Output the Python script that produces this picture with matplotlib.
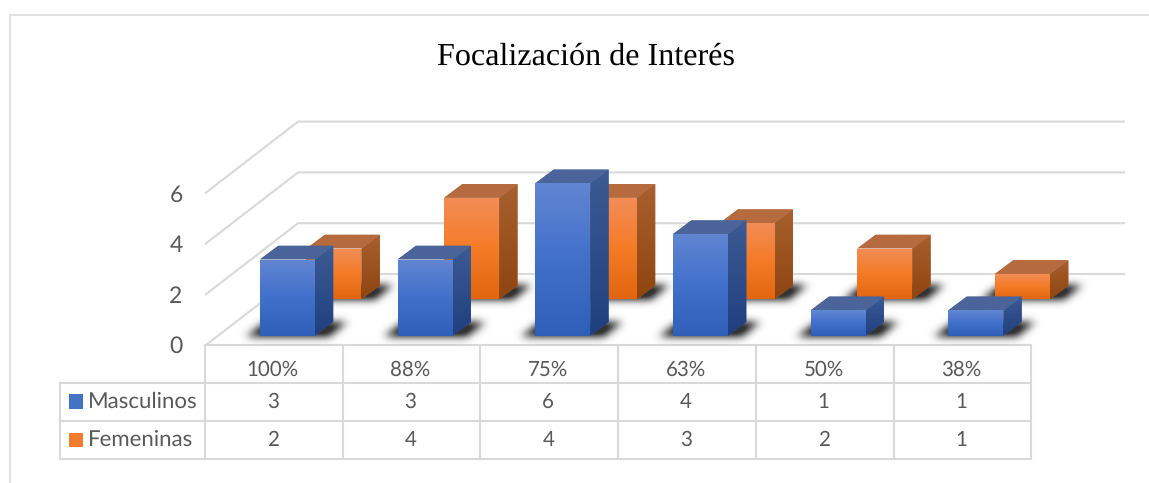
import numpy as np
import matplotlib
matplotlib.use('Agg')
import matplotlib.pyplot as plt
from matplotlib.colors import LinearSegmentedColormap
from matplotlib.patches import Polygon, Rectangle
from matplotlib.path import Path

title = 'Focalización de Interés'
categories = ['100%', '88%', '75%', '63%', '50%', '38%']
masculinos = [3, 3, 6, 4, 1, 1]
femeninas = [2, 4, 4, 3, 2, 1]
y_ticks = [0, 2, 4, 6]

W, H = 1149, 483
COL = 137.7      # pixels per category
UNIT = 25.4      # pixels per value unit
X0 = 273.9       # pixel of first category centre
Y0 = 335.7       # pixel of the front row's zero
GRID = '#d9d9d9'
TEXT = '#595959'

WIDTH = 55 / COL
DX = 18.3 / COL
DY = 13.7 / UNIT
BACK_SHIFT = 32.6 / COL
FRONT_SHIFT = -14 / COL
BACK_LIFT = 36.4 / UNIT

BLUE = {'front': ['#6186d2', '#4170cb', '#2f60b8'], 'side': ['#3c5b94', '#1f3f7f'], 'top': ['#4b6499', '#4b6499']}
ORANGE = {'front': ['#f28d57', '#f57b27', '#e2660f'], 'side': ['#a8602f', '#8f4510'], 'top': ['#b66b3f', '#b66b3f']}

plt.rcParams['font.family'] = ['Lato', 'DejaVu Sans']
plt.rcParams['text.hinting'] = 'none'

fig = plt.figure(figsize=(W / 100, H / 100), dpi=100)
page = fig.add_axes([0, 0, 1, 1])   # pixel space, for frame and table
page.set_xlim(0, W)
page.set_ylim(H, 0)
page.axis('off')

ax = fig.add_axes([0, 0, 1, 1])     # category / value space, for bars and grid
ax.axis('off')
ax.patch.set_alpha(0)


def gradient_face(pts, colors, zorder):
    pts = np.array(pts)
    # solid underlay so no light seam shows at the image edges
    ax.add_patch(Polygon(pts, closed=True, facecolor=colors[0], edgecolor='none', zorder=zorder))
    cmap = LinearSegmentedColormap.from_list('face', colors)
    grad = np.linspace(0, 1, 64).reshape(-1, 1)
    im = ax.imshow(grad, cmap=cmap, aspect='auto', interpolation='bilinear', zorder=zorder,
                   extent=[pts[:, 0].min(), pts[:, 0].max(), pts[:, 1].min(), pts[:, 1].max()])
    im.set_clip_path(Polygon(pts, closed=True, transform=ax.transData))


def draw_shadow(i, shift, lift, zorder):
    left, right = i + shift, i + shift + WIDTH
    shape = Path([(left - 14 / COL, lift - 0.02), (right + 14 / COL, lift - 0.02),
                  (right + 32 / COL, lift + 0.55), (left + 6 / COL, lift + 0.55)])
    # rasterise the floor shadow on a fine grid and blur it
    xs = np.linspace(left - 45 / COL, right + 70 / COL, 190)
    ys = np.linspace(lift - 25 / UNIT, lift + 40 / UNIT, 80)
    gx, gy = np.meshgrid(xs, ys)
    mask = shape.contains_points(np.c_[gx.ravel(), gy.ravel()]).reshape(gx.shape).astype(float)
    kernel = np.exp(-0.5 * (np.arange(-15, 16) / 5.0) ** 2)
    kernel /= kernel.sum()
    mask = np.apply_along_axis(np.convolve, 0, mask, kernel, mode='same')
    mask = np.apply_along_axis(np.convolve, 1, mask, kernel, mode='same')
    rgba = np.zeros(mask.shape + (4,))
    rgba[..., :3] = 0.2
    rgba[..., 3] = np.clip(mask * 1.25, 0, 1)
    ax.imshow(rgba, origin='lower', aspect='auto', interpolation='bilinear', zorder=zorder,
              extent=[xs[0], xs[-1], ys[0], ys[-1]])


def draw_bar(i, val, shift, lift, style, zorder):
    left, right = i + shift, i + shift + WIDTH
    base, top = lift, lift + val
    gradient_face([(right, base), (right + DX, base + DY), (right + DX, top + DY), (right, top)], style['side'], zorder)
    gradient_face([(left, top), (right, top), (right + DX, top + DY), (left + DX, top + DY)], style['top'], zorder)
    gradient_face([(left, base), (right, base), (right, top), (left, top)], style['front'], zorder + 0.001)


def draw_row(values, shift, lift, style, zorder):
    for i, val in enumerate(values):
        draw_shadow(i, shift, lift, zorder)
    for i, val in enumerate(values):
        draw_bar(i, val, shift, lift, style, zorder + 1 + i * 0.01)


# gridlines on the side and back walls
wall_left = -0.5
wall_dx = 93 / COL
wall_right = wall_left + (1125 - 205) / COL
wall_drop = (Y0 - 345.7) / UNIT
wall_rise = 71.7 / UNIT
for v in y_ticks:
    ax.plot([wall_left, wall_left + wall_dx, wall_right],
            [v + wall_drop, v + wall_drop + wall_rise, v + wall_drop + wall_rise],
            color=GRID, lw=1.5, zorder=1, solid_capstyle='butt')

draw_row(femeninas, BACK_SHIFT, BACK_LIFT, ORANGE, 2)
draw_row(masculinos, FRONT_SHIFT, 0, BLUE, 4)

ax.set_xlim(-X0 / COL, (W - X0) / COL)
ax.set_ylim((Y0 - H) / UNIT, Y0 / UNIT)

# value axis labels
for v in y_ticks:
    page.text(176, 346.7 - v * 25.2, str(v), ha='center', va='center', fontsize=16.5, color=TEXT)

# frame
page.plot([10, 10, W], [H, 15, 15], color='#dcdcdc', lw=1.2)

# data table
row_y = [345, 383, 421, 459]
col_x = [205 + COL * k for k in range(len(categories) + 1)]
page.plot([col_x[0], col_x[-1]], [row_y[0]] * 2, color=GRID, lw=1.5)
for yy in row_y[1:]:
    page.plot([60, col_x[-1]], [yy, yy], color=GRID, lw=1.5)
for xx in col_x:
    page.plot([xx, xx], [row_y[0], row_y[-1]], color=GRID, lw=1.5)
page.plot([60, 60], [row_y[1], row_y[-1]], color=GRID, lw=1.5)

for k, cat in enumerate(categories):
    cx = (col_x[k] + col_x[k + 1]) / 2
    page.text(cx - 1, 370, cat, ha='center', va='center', fontsize=14.8, color=TEXT)
    page.text(cx - 1, 402, str(masculinos[k]), ha='center', va='center', fontsize=14.8, color=TEXT)
    page.text(cx - 1, 440, str(femeninas[k]), ha='center', va='center', fontsize=14.8, color=TEXT)

page.add_patch(Rectangle((69, 394), 14, 15, facecolor='#4472c4', edgecolor='none'))
page.add_patch(Rectangle((69, 433), 14, 14, facecolor='#f47d2d', edgecolor='none'))
page.text(88, 402, 'Masculinos', ha='left', va='center', fontsize=16, color=TEXT)
page.text(88, 440, 'Femeninas', ha='left', va='center', fontsize=16, color=TEXT)

page.text(586, 57, title, ha='center', va='center', fontsize=23.1, color='black', family='Liberation Serif')

fig.savefig('out.png', dpi=100)
